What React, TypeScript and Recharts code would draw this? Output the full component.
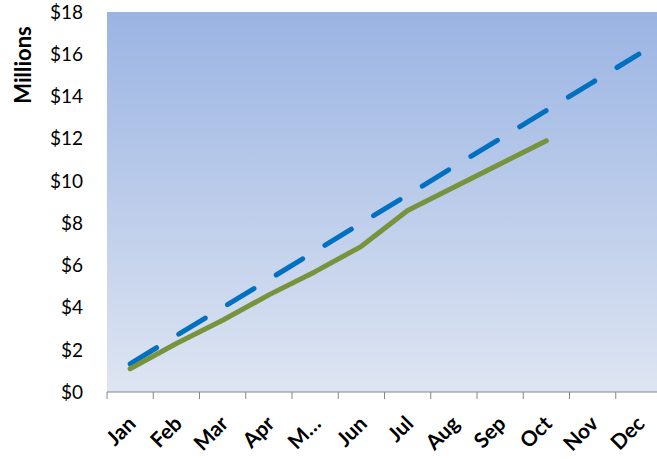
import React from 'react';
import { LineChart, Line, XAxis, YAxis, CartesianGrid } from 'recharts';

// Months of the year and the labels shown under the axis
const months = ['Jan', 'Feb', 'Mar', 'Apr', 'May', 'Jun', 'Jul', 'Aug', 'Sep', 'Oct', 'Nov', 'Dec'];
const monthLabels = ['Jan', 'Feb', 'Mar', 'Apr', 'M\u2026', 'Jun', 'Jul', 'Aug', 'Sep', 'Oct', 'Nov', 'Dec'];

// Cumulative values, $ millions
const planValues = [1.33, 2.67, 4.0, 5.33, 6.67, 8.0, 9.33, 10.67, 12.0, 13.33, 14.67, 16.0];
const actualValues: (number | null)[] = [1.1, 2.3, 3.4, 4.6, 5.7, 6.9, 8.6, 9.7, 10.8, 11.9, null, null];

const yTicks = [0, 2, 4, 6, 8, 10, 12, 14, 16, 18];

// Each month sits in the middle of its slot on a 0..12 numeric axis
const data = months.map((m, i) => ({
  month: m,
  pos: i + 0.5,
  plan: planValues[i],
  actual: actualValues[i],
}));

const boundaryTicks = months.map((_, i) => i).concat([months.length]);
const centerTicks = months.map((_, i) => i + 0.5);

const FONT = 'Lato, "Open Sans", sans-serif';

const EmptyTick = () => <g />;

const MonthTick = (props: any) => {
  const { x, y, payload } = props;
  const idx = Math.floor(payload.value);
  const ax = x + 7;
  const ay = y + 25;
  return (
    <text
      x={ax}
      y={ay}
      transform={`rotate(-45, ${ax}, ${ay})`}
      textAnchor="end"
      fontFamily={FONT}
      fontWeight="bold"
      fontSize={21}
      fill="#000"
    >
      {monthLabels[idx]}
    </text>
  );
};

export default function App() {
  return (
    <div style={{ position: 'absolute', left: 0, top: 0, width: 657, height: 459, overflow: 'hidden', background: '#fff' }}>
      <LineChart width={662} height={459} data={data} margin={{ top: 12, right: 0, bottom: 0, left: 0 }}>
        <defs>
          <linearGradient id="plotBg" x1="0" y1="0" x2="0" y2="1">
            <stop offset="0%" stopColor="#9ab4e3" />
            <stop offset="100%" stopColor="#dee5f2" />
          </linearGradient>
        </defs>
        <CartesianGrid xAxisId="a_base" horizontal={false} vertical={false} fill="url(#plotBg)" />
        <YAxis
          type="number"
          domain={[0, 18]}
          ticks={yTicks}
          width={107}
          axisLine={false}
          tickLine={false}
          tickSize={0}
          tickMargin={24}
          tickFormatter={(v: number) => `$${v}`}
          tick={{ fontFamily: FONT, fontSize: 19, fill: '#000' }}
          interval={0}
        />
        <XAxis
          xAxisId="a_base"
          dataKey="pos"
          type="number"
          domain={[0, 12]}
          ticks={boundaryTicks}
          interval={0}
          height={8}
          axisLine={{ stroke: '#868686', strokeWidth: 1 }}
          tickLine={{ stroke: '#868686', strokeWidth: 1 }}
          tickSize={7}
          tick={EmptyTick}
        />
        <XAxis
          xAxisId="b_names"
          dataKey="pos"
          type="number"
          domain={[0, 12]}
          ticks={centerTicks}
          interval={0}
          height={59}
          axisLine={false}
          tickLine={false}
          tickSize={0}
          tickMargin={0}
          tick={MonthTick}
        />
        <Line
          xAxisId="a_base"
          type="linear"
          dataKey="plan"
          stroke="#0070c0"
          strokeWidth={5}
          strokeDasharray="31 26"
          strokeLinecap="round"
          dot={false}
          activeDot={false}
          isAnimationActive={false}
        />
        <Line
          xAxisId="a_base"
          type="linear"
          dataKey="actual"
          stroke="#77933c"
          strokeWidth={5}
          strokeLinecap="round"
          strokeLinejoin="round"
          dot={false}
          activeDot={false}
          isAnimationActive={false}
        />
        <text
          transform="translate(25, 65) rotate(-90)"
          textAnchor="middle"
          dominantBaseline="middle"
          fontFamily={FONT}
          fontWeight="bold"
          fontSize={22}
          fill="#000"
        >
          Millions
        </text>
      </LineChart>
    </div>
  );
}
